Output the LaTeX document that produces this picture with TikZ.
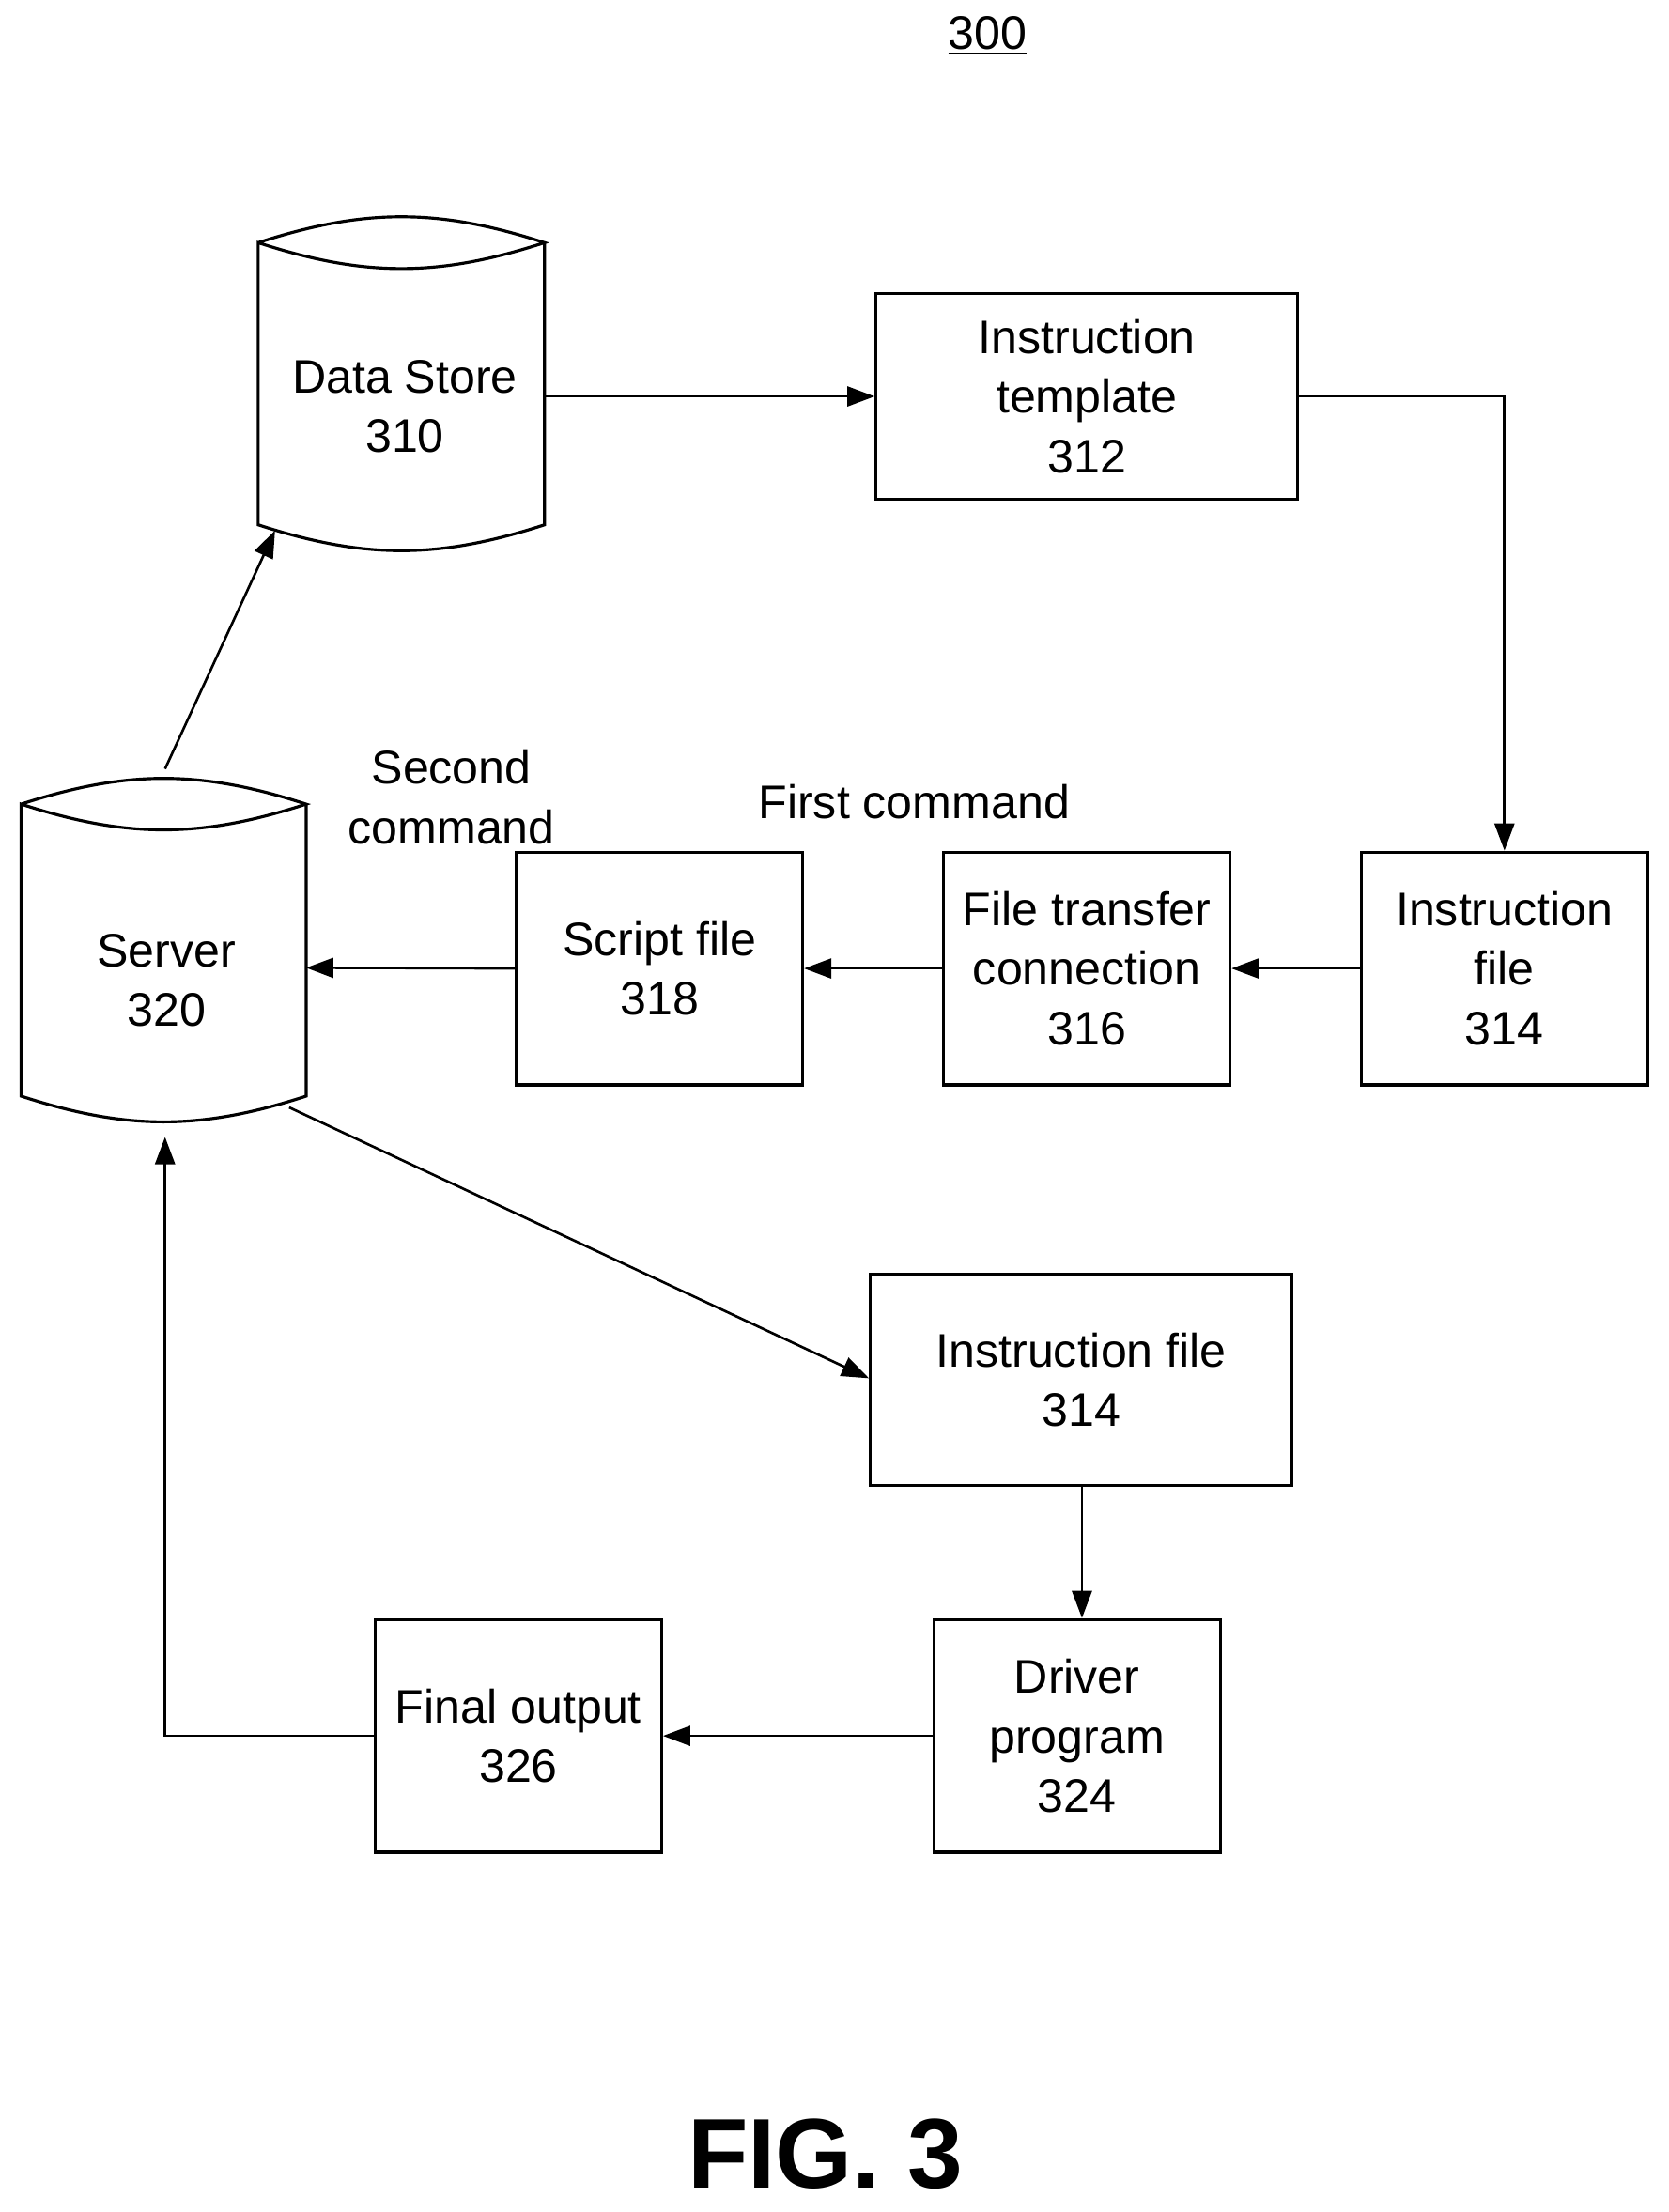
\documentclass[tikz,border=0pt]{standalone}
\usepackage{fontspec}
\setmainfont{Liberation Sans}
\usetikzlibrary{arrows.meta}
\begin{document}
\begin{tikzpicture}[x=0.02cm,y=-0.02cm,
  box/.style={draw,line width=1.2pt,inner sep=0,align=center,font=\fontsize{19}{24}\selectfont},
  lbl/.style={align=center,font=\fontsize{19}{24}\selectfont},
  ar/.style={line width=1pt,-{Triangle[length=11pt,width=8pt]}},
  cyl/.style={line width=1.2pt}]
\useasboundingbox (0,0) rectangle (1183,1568);
\node[font=\fontsize{19}{24}\selectfont] (n300) at (700,25) {\underline{300}};
% data store
\draw[cyl] (183,172) to[out=18,in=162] (386,172) to[out=-162,in=-18] (183,172) -- (183,372) to[out=-18,in=-162] (386,372) -- (386,172);
\node[lbl] (ds) at (287,288) {Data Store\\310};
\coordinate (dsr) at (386,281);
\coordinate (dsb) at (195,376);
% server
\draw[cyl] (15,570) to[out=18,in=162] (217,570) to[out=-162,in=-18] (15,570) -- (15,777) to[out=-18,in=-162] (217,777) -- (217,570);
\node[lbl] (srv) at (118,695) {Server\\320};
\coordinate (srvr) at (217,686);
\coordinate (srvt) at (117,545);
\coordinate (srvd) at (205,785);
\coordinate (srvb) at (117,806);
\node[box,minimum width=5.98cm,minimum height=2.92cm] (t312) at (770.5,281) {Instruction\\template\\312};
\node[box,minimum width=4.06cm,minimum height=3.3cm] (f314) at (1066.5,686.5) {Instruction\\file\\314};
\node[box,minimum width=4.06cm,minimum height=3.3cm] (c316) at (770.5,686.5) {File transfer\\connection\\316};
\node[box,minimum width=4.06cm,minimum height=3.3cm] (s318) at (467.5,686.5) {Script file\\318};
\node[box,minimum width=5.98cm,minimum height=3.0cm] (g314) at (766.5,978) {Instruction file\\314};
\node[box,minimum width=4.06cm,minimum height=3.3cm] (d324) at (763.5,1230.5) {Driver\\program\\324};
\node[box,minimum width=4.06cm,minimum height=3.3cm] (o326) at (367.5,1230.5) {Final output\\326};
\node[lbl] (sc) at (320,565) {Second\\command};
\node[lbl] (fc) at (648,568) {First command};
\node[font=\fontsize{40}{46}\selectfont\bfseries] (fig) at (585,1527) {FIG. 3};
\draw[ar] (dsr) -- (t312.west |- dsr);
\draw[ar] (t312.east) -| (f314.north);
\draw[ar] (f314.west) -- (c316.east);
\draw[ar] (c316.west) -- (s318.east);
\draw[ar] (s318.west) -- (srvr);
\draw[ar] (srvt) -- (dsb);
\draw[ar] (srvd) -- (g314.west |- 0,977);
\draw[ar] (g314.south -| 767,0) -- (d324.north -| 767,0);
\draw[ar] (d324.west) -- (o326.east);
\draw[ar] (o326.west) -| (srvb);
\end{tikzpicture}
\end{document}
